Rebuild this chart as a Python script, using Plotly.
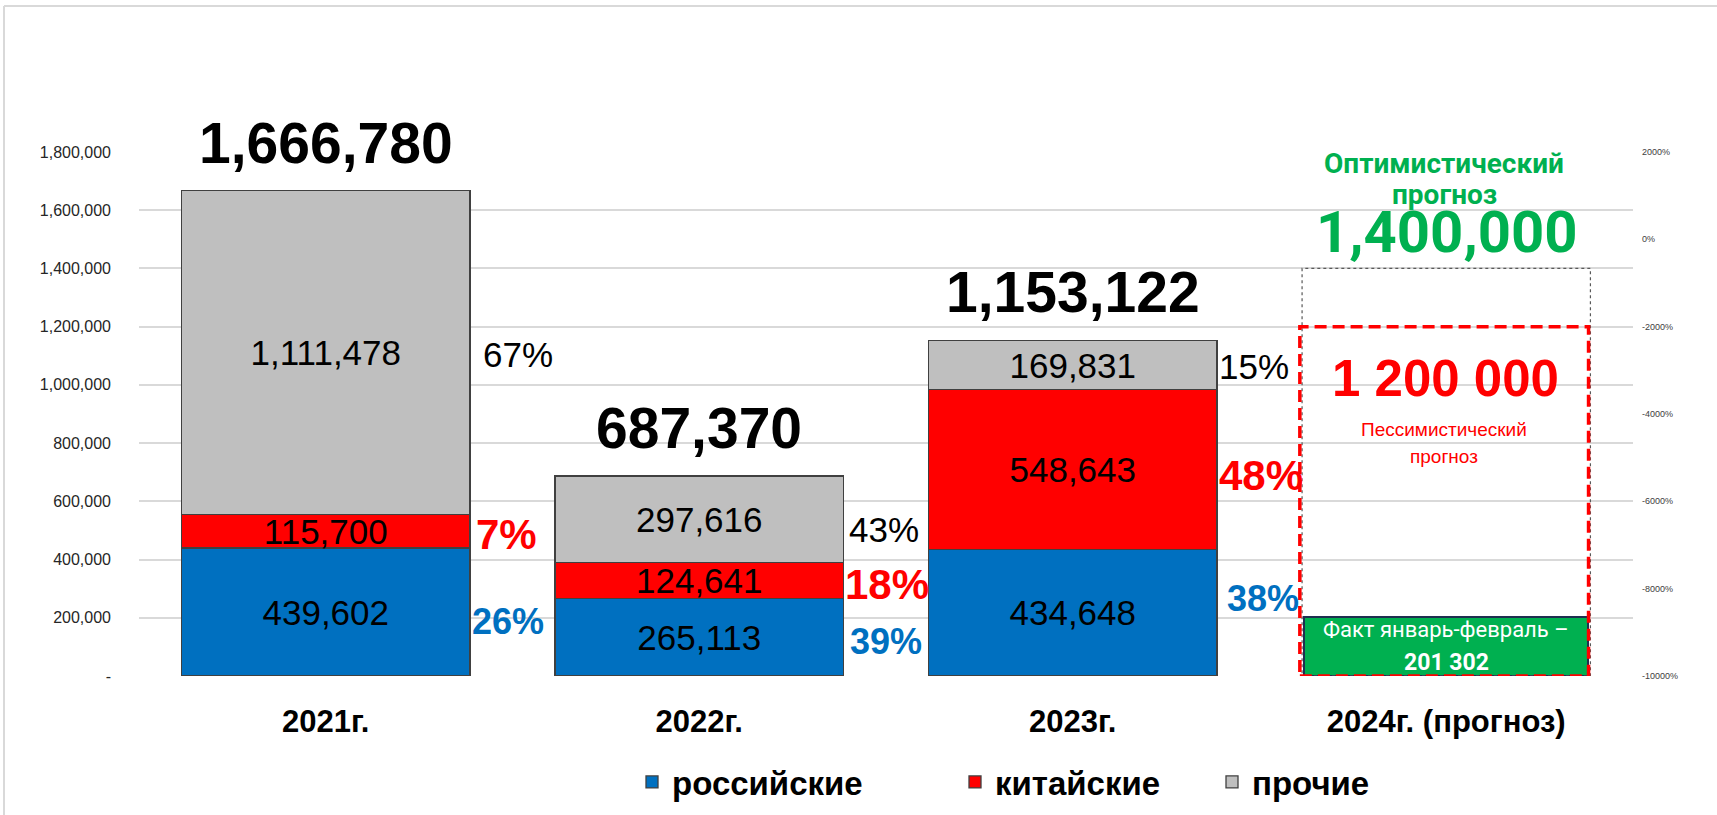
import plotly.graph_objects as go

# ---------------- data ----------------
categories = ["2021г.", "2022г.", "2023г.", "2024г. (прогноз)"]
russian = [439602, 265113, 434648]
chinese = [115700, 124641, 548643]
other = [1111478, 297616, 169831]
series_names = ["российские", "китайские", "прочие"]
fact_2024 = 201302
optimistic_2024 = 1400000
pessimistic_2024 = 1200000
y_ticks = [0, 200000, 400000, 600000, 800000, 1000000, 1200000, 1400000, 1600000, 1800000]
y2_ticks = [2000, 0, -2000, -4000, -6000, -8000, -10000]

# ---------------- style ----------------
ARIAL = "Liberation Sans, Arial, sans-serif"
CAL = "Roboto, Liberation Sans, sans-serif"
colors = ["#0070C0", "#FF0000", "#BFBFBF"]
pct_colors = ["#0070C0", "#FF0000", "#000000"]
pct_sizes = [36, 42, 35]
pct_bold = [True, True, False]
GREEN = "#00B050"
BAR_W = 0.772
L, R, T, B = 139, 84, 152, 139
W, H = 1717, 815
PW, PH = W - L - R, H - T - B

# per-label nudges (xshift, yshift) for the share labels, by [year][series]
pct_nudge = [
    [(182, -9), (181, -3), (192, -2)],
    [(187, -4), (188, -4), (185, -10)],
    [(190, 14), (188, -6), (181, -1)],
]

fig = go.Figure()
series = [russian, chinese, other]
for i, (name, vals) in enumerate(zip(series_names, series)):
    fig.add_trace(go.Bar(
        x=categories[:3], y=vals, name=name,
        marker=dict(color=colors[i], line=dict(color="#404040", width=1.3)),
        width=BAR_W,
        texttemplate="%{y:,}", textposition="inside", insidetextanchor="middle",
        textangle=0, constraintext="none",
        textfont=dict(family=ARIAL, size=35, color="black"),
        legend="legend" if i == 0 else f"legend{i+1}",
        hoverinfo="skip",
    ))

# 2024 fact bar
fig.add_trace(go.Bar(
    x=[categories[3]], y=[fact_2024], width=0.76, showlegend=False,
    marker=dict(color=GREEN, line=dict(color="#1F2F50", width=2)),
    hoverinfo="skip",
))

# invisible trace to activate right axis
fig.add_trace(go.Scatter(x=[categories[0]], y=[None], yaxis="y2", showlegend=False,
                         mode="markers", hoverinfo="skip"))

annotations = []
totals = [r + c + o for r, c, o in zip(russian, chinese, other)]
for j, cat in enumerate(categories[:3]):
    annotations.append(dict(
        x=cat, y=totals[j], text=f"<b>{totals[j]:,}</b>", showarrow=False,
        yanchor="middle", yshift=48,
        font=dict(family=ARIAL, size=57, color="black")))
    base = 0
    for i, vals in enumerate(series):
        v = vals[j]
        mid = base + v / 2
        base += v
        pct = round(v / totals[j] * 100)
        txt = f"{pct}%"
        if pct_bold[i]:
            txt = f"<b>{txt}</b>"
        xs, ys = pct_nudge[j][i]
        annotations.append(dict(
            x=cat, y=mid, text=txt, showarrow=False, xanchor="center",
            yanchor="middle", xshift=xs, yshift=ys,
            font=dict(family=ARIAL, size=pct_sizes[i], color=pct_colors[i])))

c4 = categories[3]
annotations += [
    dict(x=c4, y=optimistic_2024, text="<b>Оптимистический</b>", showarrow=False,
         yanchor="middle", yshift=105, xshift=-2,
         font=dict(family=CAL, size=28, color=GREEN)),
    dict(x=c4, y=optimistic_2024, text="<b>прогноз</b>", showarrow=False,
         yanchor="middle", yshift=74, xshift=-2,
         font=dict(family=CAL, size=28, color=GREEN)),
    dict(x=c4, y=optimistic_2024, text=f"<b>{optimistic_2024:,}</b>", showarrow=False,
         yanchor="middle", yshift=36, font=dict(family=CAL, size=58, color=GREEN)),
    dict(x=c4, y=pessimistic_2024, text="<b>" + f"{pessimistic_2024:,}".replace(",", " ") + "</b>",
         showarrow=False, yanchor="middle", yshift=-52, xshift=-1,
         font=dict(family=ARIAL, size=51, color="#FF0000")),
    dict(x=c4, y=pessimistic_2024, text="Пессимистический", showarrow=False,
         yanchor="middle", yshift=-103, xshift=-2,
         font=dict(family=ARIAL, size=19, color="#FF0000")),
    dict(x=c4, y=pessimistic_2024, text="прогноз", showarrow=False,
         yanchor="middle", yshift=-130, xshift=-2,
         font=dict(family=ARIAL, size=19, color="#FF0000")),
    dict(x=c4, y=fact_2024, text="Факт январь-февраль –", showarrow=False,
         yanchor="middle", yshift=-12, font=dict(family=CAL, size=22, color="white")),
    dict(x=c4, y=fact_2024, text="<b>" + f"{fact_2024:,}".replace(",", " ") + "</b>",
         showarrow=False, yanchor="middle", yshift=-45,
         font=dict(family=CAL, size=23, color="white")),
]

shapes = [
    # optimistic forecast outline
    dict(type="rect", xref="x", yref="y", x0=3 - 0.386, x1=3 + 0.386, y0=0, y1=optimistic_2024,
         line=dict(color="#595959", width=1.2, dash="dot"), layer="above"),
    # pessimistic forecast outline
    dict(type="rect", xref="x", yref="y", x0=3 - 0.392, x1=3 + 0.381, y0=0, y1=pessimistic_2024,
         line=dict(color="#FF0000", width=3.5, dash="12px,6px"), layer="above"),
    # outer frame (top and left)
    dict(type="line", xref="paper", yref="paper", x0=(4 - L) / PW, x1=(W + 10 - L) / PW,
         y0=(H - B - 6) / PH, y1=(H - B - 6) / PH, line=dict(color="#D9D9D9", width=2)),
    dict(type="line", xref="paper", yref="paper", x0=(4 - L) / PW, x1=(4 - L) / PW,
         y0=(H - B - 6) / PH, y1=(-B - 10) / PH, line=dict(color="#D9D9D9", width=2)),
]

y_ticktext = [f"{v:,}" if v else "-" for v in y_ticks]
y2_ticktext = [f"{v}%" for v in y2_ticks]

legend_common = dict(orientation="h", yanchor="middle", y=(H - B - 782) / PH, xanchor="left",
                     font=dict(family=ARIAL, size=33, color="black", weight="bold"),
                     bgcolor="rgba(0,0,0,0)", borderwidth=0)

fig.update_layout(
    width=W, height=H, autosize=False,
    margin=dict(l=L, r=R, t=T, b=B, pad=0, autoexpand=False),
    paper_bgcolor="white", plot_bgcolor="white",
    barmode="stack", bargap=1 - BAR_W,
    xaxis=dict(type="category", categoryorder="array", categoryarray=categories,
               range=[-0.5, 3.5], showgrid=False, zeroline=False, showline=False, ticks="",
               automargin=False,
               tickfont=dict(family=ARIAL, size=31, color="black"), ticklabelstandoff=24,
               tickprefix="<b>", ticksuffix="</b>"),
    yaxis=dict(range=[0, 1800000], tickvals=y_ticks, ticktext=y_ticktext,
               showgrid=True, gridcolor="#D9D9D9", gridwidth=1.5, zeroline=False,
               showline=False, ticks="", ticklabelstandoff=27, automargin=False,
               tickfont=dict(family=ARIAL, size=16, color="#262626")),
    yaxis2=dict(overlaying="y", side="right", range=[-10000, 2000], tickvals=y2_ticks,
                ticktext=y2_ticktext, showgrid=False, zeroline=False, showline=False,
                ticks="", ticklabelstandoff=8, automargin=False,
                tickfont=dict(family=ARIAL, size=9, color="#404040")),
    legend=dict(legend_common, x=(632 - L) / PW),
    legend2=dict(legend_common, x=(955 - L) / PW),
    legend3=dict(legend_common, x=(1212 - L) / PW),
    annotations=annotations,
    shapes=shapes,
    showlegend=True,
)

fig.write_html("out.html", config={"displayModeBar": False},
               post_script="document.body.style.margin='0px';document.body.style.overflow='hidden';")
